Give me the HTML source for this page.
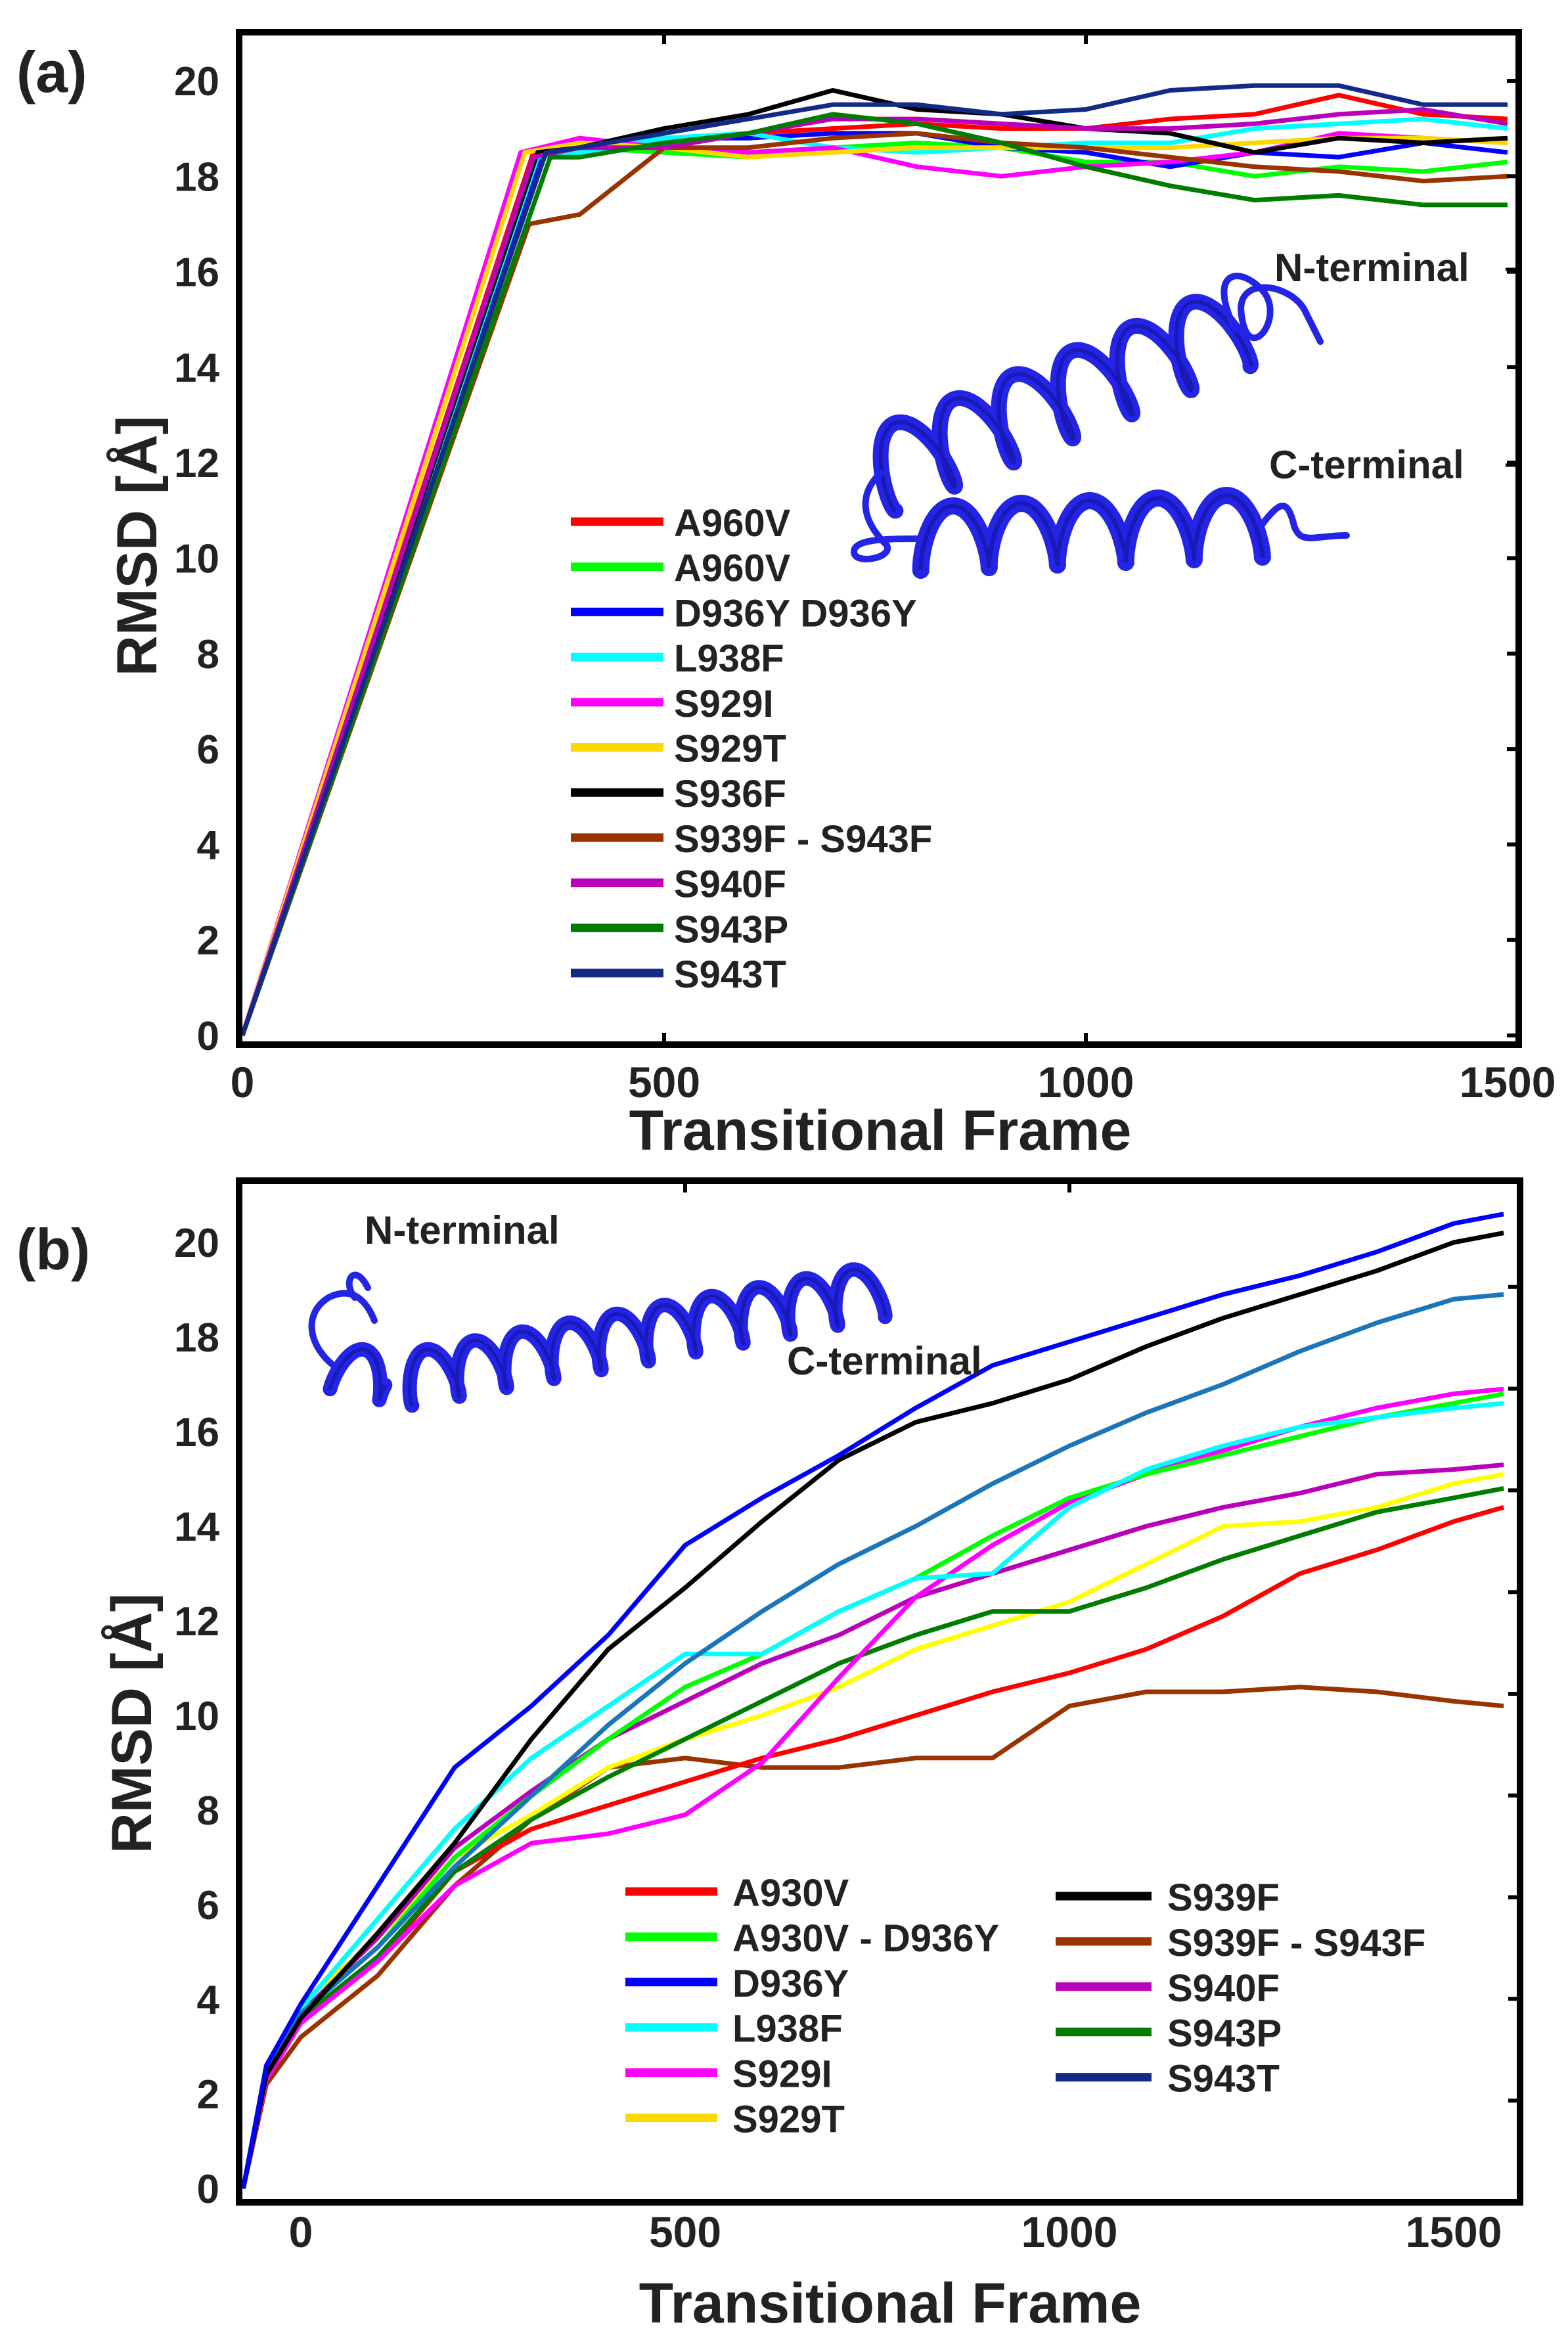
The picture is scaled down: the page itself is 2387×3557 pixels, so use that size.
<!DOCTYPE html>
<html><head><meta charset="utf-8">
<style>
html,body{margin:0;padding:0;background:#fff;}
svg{display:block;}
text{font-family:"Liberation Sans Narrow","Liberation Sans",sans-serif;font-weight:bold;fill:#222;}
</style></head>
<body>
<svg id="fig" width="2387" height="3557" viewBox="0 0 2387 3557" xmlns="http://www.w3.org/2000/svg">
<rect x="0" y="0" width="2387" height="3557" fill="#fff"/>
<g id="pa"></g>
<g id="pb"></g>
</svg>
<script>
// ---------- Panel (a) data ----------
const aFrames = [0, 'R', 400, 500, 600, 700, 800, 900, 1000, 1100, 1200, 1300, 1400, 1500];
const aNames = ["A960V","A960V","D936Y D936Y","L938F","S929I","S929T","S936F","S939F  -  S943F","S940F","S943P","S943T"];
const aColors = ["#ff0000","#00ff00","#0000ff","#00ffff","#ff00ff","#ffd700","#000000","#993300","#bb00bb","#007d00","#142a88"];
const aRise = [345, 350, 355, 350, 330, 335, 350, 340, 345, 365, 360];
const aRiseVal = [18.5, 18.4, 18.5, 18.4, 18.5, 18.5, 18.5, 17.0, 18.4, 18.4, 18.5];
const aS0 = [0,18.5,18.6,18.7,18.9,19.0,19.1,19.0,19.0,19.2,19.3,19.7,19.3,19.2];
const aS1 = [0,18.4,18.6,18.5,18.4,18.6,18.7,18.6,18.3,18.3,18.0,18.2,18.1,18.3];
const aS2 = [0,18.5,18.6,18.8,18.8,18.9,18.9,18.6,18.5,18.2,18.5,18.4,18.7,18.5];
const aS3 = [0,18.4,18.5,18.8,18.9,18.6,18.5,18.6,18.7,18.7,19.0,19.1,19.2,19.0];
const aS4 = [0,18.5,18.8,18.6,18.5,18.6,18.2,18.0,18.2,18.3,18.5,18.9,18.8,18.7];
const aS5 = [0,18.5,18.7,18.6,18.4,18.5,18.6,18.6,18.6,18.6,18.7,18.8,18.8,18.7];
const aS6 = [0,18.5,18.6,19.0,19.3,19.8,19.4,19.3,19.0,18.9,18.5,18.8,18.7,18.8];
const aS7 = [0,17.0,17.2,18.6,18.6,18.8,18.9,18.7,18.6,18.4,18.2,18.1,17.9,18.0];
const aS8 = [0,18.4,18.6,18.6,18.9,19.2,19.2,19.1,19.0,19.0,19.1,19.3,19.4,19.1];
const aS9 = [0,18.4,18.4,18.7,18.9,19.3,19.1,18.7,18.2,17.8,17.5,17.6,17.4,17.4];
const aS10 = [0,18.5,18.6,18.9,19.2,19.5,19.5,19.3,19.4,19.8,19.9,19.9,19.5,19.5];
const aSeries = [aS0,aS1,aS2,aS3,aS4,aS5,aS6,aS7,aS8,aS9,aS10];
const aXTicks = [0, 500, 1000, 1500];
const aYTicks = [0, 2, 4, 6, 8, 10, 12, 14, 16, 18, 20];

// ---------- Panel (b) data ----------
const bFrames = [-75,-45,0,100,200,300,400,500,600,700,800,900,1000,1100,1200,1300,1400,1500,1565];
const bNames1 = ["A930V","A930V - D936Y","D936Y","L938F","S929I","S929T"];
const bColors1 = ["#ff0000","#00ff00","#0000ff","#00ffff","#ff00ff","#ffd700"];
const bNames2 = ["S939F","S939F  -  S943F","S940F","S943P","S943T"];
const bColors2 = ["#000000","#993300","#bb00bb","#007d00","#142a88"];
const bRed    = [0,2.4,3.5,4.8,6.7,7.6,8.1,8.6,9.1,9.5,10.0,10.5,10.9,11.4,12.1,13.0,13.5,14.1,14.4];
const bLime   = [0,2.5,3.7,5.1,7.0,8.3,9.5,10.6,11.3,12.2,12.9,13.8,14.6,15.1,15.5,15.9,16.3,16.6,16.8];
const bBlue   = [0,2.6,3.9,6.4,8.9,10.2,11.7,13.6,14.6,15.5,16.5,17.4,17.9,18.4,18.9,19.3,19.8,20.4,20.6];
const bCyan   = [0,2.5,3.8,5.7,7.6,9.1,10.2,11.3,11.3,12.2,12.9,13.0,14.4,15.2,15.7,16.1,16.3,16.5,16.6];
const bMag    = [0,2.3,3.5,4.8,6.4,7.3,7.5,7.9,9.0,10.8,12.5,13.6,14.5,15.1,15.6,16.1,16.5,16.8,16.9];
const bYel    = [0,2.6,3.9,5.3,7.0,7.9,8.9,9.5,10.0,10.6,11.4,11.9,12.4,13.2,14.0,14.1,14.4,14.9,15.1];
const bBlack  = [0,2.4,3.6,5.4,7.3,9.5,11.4,12.7,14.1,15.4,16.2,16.6,17.1,17.8,18.4,18.9,19.4,20.0,20.2];
const bBrown  = [0,2.2,3.2,4.5,6.4,7.8,8.9,9.1,8.9,8.9,9.1,9.1,10.2,10.5,10.5,10.6,10.5,10.3,10.2];
const bPurp   = [0,2.4,3.7,5.3,7.2,8.4,9.5,10.3,11.1,11.7,12.5,13.0,13.5,14.0,14.4,14.7,15.1,15.2,15.3];
const bDGreen = [0,2.4,3.6,4.9,6.7,7.8,8.7,9.5,10.3,11.1,11.7,12.2,12.2,12.7,13.3,13.8,14.3,14.6,14.8];
const bSteel  = [0,2.4,3.7,5.1,6.8,8.3,9.8,11.1,12.2,13.2,14.0,14.9,15.7,16.4,17.0,17.7,18.3,18.8,18.9];
const bSeries = [bBrown,bYel,bRed,bDGreen,bPurp,bMag,bLime,bCyan,bSteel,bBlack,bBlue];
const bSeriesColors = ["#993300","#ffff00","#ff0000","#007d00","#bb00bb","#ff00ff","#00ff00","#00ffff","#1b75bb","#000000","#0000ff"];
const bSeriesNames = ["s939f-s943f","s929t","a930v","s943p","s940f","s929i","a930v-d936y","l938f","s943t","s939f","d936y"];
const bXTicks = [0, 500, 1000, 1500];
const bYTicks = [0, 2, 4, 6, 8, 10, 12, 14, 16, 18, 20];

const NS = "http://www.w3.org/2000/svg";
function mk(parent, tag, attrs, txt){
  const e = document.createElementNS(NS, tag);
  for (const k in attrs) e.setAttribute(k, attrs[k]);
  if (txt !== undefined) e.textContent = txt;
  parent.appendChild(e);
  return e;
}
// axis functions
const axA = { x: f => 369 + f * 1.284, y: v => 1576 - v * 72.65 };
const axB = { x: f => 458 + f * 1.170, y: v => 3331 - v * 72.0 };

function helix(g, x0, y0, x1, y1, turns, amp, w, name){
  const dx = x1 - x0, dy = y1 - y0, L = Math.hypot(dx, dy);
  const ux = dx / L, uy = dy / L, px = -uy, py = ux;
  let d = "";
  const N = 400;
  for (let i = 0; i <= N; i++){
    const t = i / N;
    const a = t * turns * 2 * Math.PI;
    const along = t * L - Math.sin(a) * amp * 0.35;
    const side = Math.cos(a) * amp;
    const X = x0 + ux * along + px * side, Y = y0 + uy * along + py * side;
    d += (i ? "L" : "M") + X.toFixed(1) + " " + Y.toFixed(1);
  }
  const p = mk(g, "path", {d: d, fill: "none", stroke: "#2424e6", "stroke-width": w, "stroke-linejoin": "round", "stroke-linecap": "round"});
  
  
  const p2 = mk(g, "path", {d: d, fill: "none", stroke: "#10108a", "stroke-width": w * 0.25, opacity: 0.5});
  
  
}

// ================= PANEL A =================
(function(){
  const g = document.getElementById("pa");
  const L = 364, R = 2312, T = 49, B = 1590;
  aSeries.forEach((s, i) => {
    let d = "";
    s.forEach((v, j) => {
      const f = aFrames[j] === 'R' ? aRise[i] : aFrames[j];
      const vv = aFrames[j] === 'R' ? aRiseVal[i] : v;
      d += (j ? "L" : "M") + axA.x(f).toFixed(1) + " " + axA.y(vv).toFixed(1);
    });
    const p = mk(g, "path", {d: d, fill: "none", stroke: aColors[i], "stroke-width": 7, "stroke-linejoin": "round"});
    
    
  });
  const fr = mk(g, "rect", {x: L, y: T, width: R - L, height: B - T, fill: "none", stroke: "#000", "stroke-width": 10});
  
  
  aYTicks.forEach(v => {
    const y = axA.y(v);
    const t = mk(g, "line", {x1: R - 18, y1: y, x2: R, y2: y, stroke: "#000", "stroke-width": 6});
    
    
    const lb = mk(g, "text", {x: 334, y: y + 22, "text-anchor": "end", "font-size": 62}, String(v));
    
    
  });
  aXTicks.forEach(v => {
    const x = axA.x(v);
    if (v > 0 && v < 1500){
      const t1 = mk(g, "line", {x1: x, y1: T, x2: x, y2: T + 18, stroke: "#000", "stroke-width": 6});
      
      
      const t2 = mk(g, "line", {x1: x, y1: B - 18, x2: x, y2: B, stroke: "#000", "stroke-width": 6});
      
      
    }
    const lb = mk(g, "text", {x: x, y: 1670, "text-anchor": "middle", "font-size": 66}, String(v));
    
    
  });
  const xt = mk(g, "text", {x: 1340, y: 1750, "text-anchor": "middle", "font-size": 86}, "Transitional Frame");
  
  
  const yt = mk(g, "text", {x: 0, y: 0, "text-anchor": "middle", "font-size": 86, transform: "translate(238,831) rotate(-90)"}, "RMSD [Å]");
  
  
  const pl = mk(g, "text", {x: 25, y: 140, "font-size": 88}, "(a)");
  
  
  aNames.forEach((n, i) => {
    const y = 794 + i * 68.7;
    const ln = mk(g, "line", {x1: 869, y1: y, x2: 1010, y2: y, stroke: aColors[i], "stroke-width": 13});
    
    
    const tx = mk(g, "text", {x: 1026, y: y + 22, "font-size": 58, fill: "#111"}, n);
    
    
  });
  const pg = mk(g, "g", {});
  
  
  helix(pg, 1340, 720, 1880, 500, 6, 62, 24, 'helix-upper-a');
  helix(pg, 1400, 820, 1920, 800, 5, 48, 26, 'helix-lower-a');
  const lp = mk(pg, "path", {d: "M1880 500 C1840 420 1880 400 1920 440 C1960 480 1900 560 1890 480 C1880 420 1960 430 1985 470 C2000 500 2005 510 2010 520 M1920 800 C1950 760 1960 760 1970 800 C1980 830 2000 815 2050 815 M1340 720 C1300 760 1320 800 1350 830 C1360 850 1300 860 1300 840 C1300 820 1350 820 1400 820", fill: "none", stroke: "#2424e6", "stroke-width": 10, "stroke-linecap": "round"});
  
  
  const nt = mk(g, "text", {x: 1940, y: 428, "font-size": 60}, "N-terminal");
  
  
  const ct = mk(g, "text", {x: 1932, y: 728, "font-size": 60}, "C-terminal");
  
  
  [[R - 20, 410, R, 410], [R - 20, 708, R, 708]].forEach(c => {
    const l = mk(g, "line", {x1: c[0], y1: c[1], x2: c[2], y2: c[3], stroke: "#000", "stroke-width": 5});
    
    
  });
})();

// ================= PANEL B =================
(function(){
  const g = document.getElementById("pb");
  const L = 364, R = 2314, T = 1797, B = 3352;
  bSeries.forEach((s, i) => {
    let d = "";
    s.forEach((v, j) => {
      d += (j ? "L" : "M") + axB.x(bFrames[j]).toFixed(1) + " " + axB.y(v).toFixed(1);
    });
    const p = mk(g, "path", {d: d, fill: "none", stroke: bSeriesColors[i], "stroke-width": 7, "stroke-linejoin": "round"});
    
    
  });
  const fr = mk(g, "rect", {x: L, y: T, width: R - L, height: B - T, fill: "none", stroke: "#000", "stroke-width": 10});
  
  
  bYTicks.forEach(v => {
    if (v === 0 || v === 20) return;
    const y = 3352 - v * 77.4;
    const t = mk(g, "line", {x1: R - 18, y1: y, x2: R, y2: y, stroke: "#000", "stroke-width": 6});
    
    
  });
  bYTicks.forEach(v => {
    const y = axB.y(v);
    const lb = mk(g, "text", {x: 334, y: y + 22, "text-anchor": "end", "font-size": 62}, String(v));
    
    
  });
  bXTicks.forEach(v => {
    const x = axB.x(v);
    if (v === 500 || v === 1000){
      const t1 = mk(g, "line", {x1: x, y1: T, x2: x, y2: T + 18, stroke: "#000", "stroke-width": 6});
      
      
    }
    const lb = mk(g, "text", {x: x, y: 3420, "text-anchor": "middle", "font-size": 66}, String(v));
    
    
  });
  const xt = mk(g, "text", {x: 1355, y: 3535, "text-anchor": "middle", "font-size": 86}, "Transitional Frame");
  
  
  const yt = mk(g, "text", {x: 0, y: 0, "text-anchor": "middle", "font-size": 86, transform: "translate(230,2623) rotate(-90)"}, "RMSD [Å]");
  
  
  const pl = mk(g, "text", {x: 25, y: 1932, "font-size": 88}, "(b)");
  
  
  bNames1.forEach((n, i) => {
    const y = 2879 + i * 68.9;
    const ln = mk(g, "line", {x1: 952, y1: y, x2: 1092, y2: y, stroke: bColors1[i], "stroke-width": 13});
    
    
    const tx = mk(g, "text", {x: 1115, y: y + 22, "font-size": 58, fill: "#111"}, n);
    
    
  });
  bNames2.forEach((n, i) => {
    const y = 2886 + i * 68.9;
    const ln = mk(g, "line", {x1: 1607, y1: y, x2: 1753, y2: y, stroke: bColors2[i], "stroke-width": 13});
    
    
    const tx = mk(g, "text", {x: 1777, y: y + 22, "font-size": 58, fill: "#111"}, n);
    
    
  });
  const pg = mk(g, "g", {});
  
  
  helix(pg, 510, 2080, 600, 2100, 1.2, 35, 22, 'helix-start-b');
  helix(pg, 620, 2100, 1340, 1965, 10, 40, 22, 'helix-main-b');
  const lp = mk(pg, "path", {d: "M510 2080 C470 2050 460 2000 500 1975 C540 1955 560 1985 570 2010 M540 1975 C520 1950 540 1920 560 1960", fill: "none", stroke: "#2424e6", "stroke-width": 10, "stroke-linecap": "round"});
  
  
  const nt = mk(g, "text", {x: 555, y: 1893, "font-size": 60}, "N-terminal");
  
  
  const ct = mk(g, "text", {x: 1198, y: 2092, "font-size": 60}, "C-terminal");
  
  
})();
</script>
</body></html>
